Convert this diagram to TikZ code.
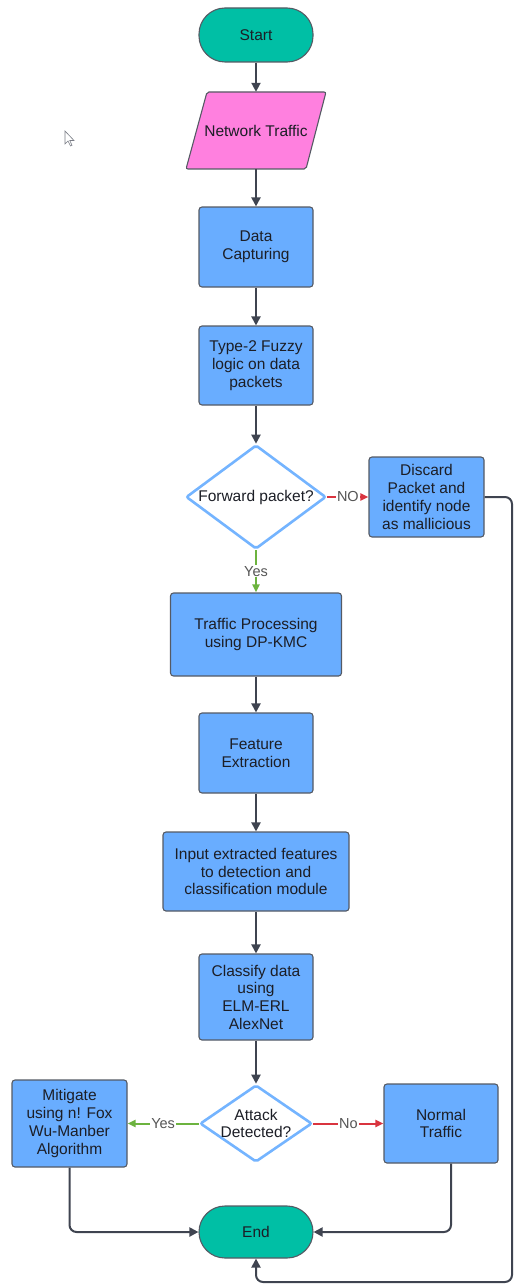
\documentclass[tikz,border=0pt]{standalone}
\usepackage{fontspec}
\setmainfont{Liberation Sans}
\usetikzlibrary{shapes.geometric,arrows.meta}
\definecolor{boxblue}{HTML}{69ADFF}
\definecolor{dblue}{HTML}{74B4FF}
\definecolor{teal}{HTML}{00BFA5}
\definecolor{pinkio}{HTML}{FF80DF}
\definecolor{edge}{HTML}{555A64}
\definecolor{conncol}{HTML}{3F4450}
\definecolor{yesgreen}{HTML}{6CB33F}
\definecolor{nored}{HTML}{D9343F}
\definecolor{txt}{HTML}{1C1E26}
\definecolor{lbl}{HTML}{555555}
\tikzset{
  every node/.style={font=\fontsize{15.5}{17.7}\selectfont, text=txt, align=center},
  procbox/.style={draw=edge, line width=1.1pt, fill=boxblue, rounded corners=3pt, inner sep=0pt},
  termbox/.style={draw=edge, line width=1.1pt, fill=teal, rounded corners=26pt, inner sep=0pt, minimum width=114pt},
  decbox/.style={draw=dblue, line width=2.6pt, fill=white, diamond, inner sep=0pt, rounded corners=2pt},
  ghost/.style={inner sep=0pt},
  conn/.style={color=conncol, line width=2pt, -{Triangle[length=9pt,width=9pt]}},
  yesline/.style={color=yesgreen, line width=2pt, -{Triangle[length=8pt,width=7pt]}},
  noline/.style={color=nored, line width=2pt, -{Triangle[length=8pt,width=7pt]}},
  lab/.style={fill=white, text=lbl, inner sep=1pt, font=\fontsize{14.5}{16}\selectfont}
}
\begin{document}
\begin{tikzpicture}[x=1pt,y=-1pt]
\useasboundingbox (0,0) rectangle (514,1284);
% nodes
\node[termbox, minimum height=54pt] (start) at (256,35) {Start};
\fill[pinkio, draw=edge, line width=1.1pt, rounded corners=2pt]
  (207,92) -- (326,92) -- (306,169) -- (186,169) -- cycle;
\node[ghost, minimum width=120pt, minimum height=77pt] (nt) at (256,130.5) {Network Traffic};
\node[procbox, minimum width=114pt, minimum height=80pt] (dc) at (256,247) {Data\\Capturing};
\node[procbox, minimum width=114pt, minimum height=79pt] (t2) at (256,365.5) {Type-2 Fuzzy\\logic on data\\packets};
\node[decbox, minimum width=140pt, minimum height=104pt, label={center:Forward packet?}] (fwd) at (256,497) {};
\node[procbox, minimum width=115pt, minimum height=80pt] (disc) at (426.5,497) {Discard\\Packet and\\identify node\\as mallicious};
\node[procbox, minimum width=171pt, minimum height=83pt] (tp) at (256,634.5) {Traffic Processing\\using DP-KMC};
\node[procbox, minimum width=114pt, minimum height=80pt] (fe) at (256,753) {Feature\\Extraction};
\node[procbox, minimum width=186pt, minimum height=79pt] (inp) at (256,871.5) {Input extracted features\\to detection and\\classification module};
\node[procbox, minimum width=114pt, minimum height=86pt] (cls) at (256,997) {Classify data\\using\\ELM-ERL\\AlexNet};
\node[decbox, minimum width=112pt, minimum height=77pt, label={center:Attack\\Detected?}] (att) at (256,1123.5) {};
\node[procbox, minimum width=115pt, minimum height=87pt] (mit) at (69.5,1123.5) {Mitigate\\using n! Fox\\Wu-Manber\\Algorithm};
\node[procbox, minimum width=114pt, minimum height=79pt] (nor) at (441,1123.5) {Normal\\Traffic};
\node[termbox, minimum height=52pt] (end) at (256,1232) {End};
\coordinate (lr) at (512,1282);
% cursor
\draw[conncol!70, fill=white, line width=0.6pt] (65,131) -- (65,144) -- (68,141) -- (70.5,146) -- (72,145.3) -- (69.8,140.5) -- (74,140.5) -- cycle;
% connectors
\draw[conn] (start) -- (nt);
\draw[conn] (nt) -- (dc);
\draw[conn] (dc) -- (t2);
\draw[conn] (t2) -- (fwd);
\draw[noline] (fwd) -- node[lab]{NO} (disc);
\draw[yesline] (fwd) -- node[lab]{Yes} (tp);
\draw[conn] (tp) -- (fe);
\draw[conn] (fe) -- (inp);
\draw[conn] (inp) -- (cls);
\draw[conn] (cls) -- (att);
\draw[yesline] (att) -- node[lab]{Yes} (mit);
\draw[noline] (att) -- node[lab]{No} (nor);
\draw[conn, rounded corners=7pt] (mit.south) |- (end.west);
\draw[conn, rounded corners=7pt] ([xshift=10pt]nor.south) |- (end.east);
\draw[conn, rounded corners=7pt] (disc.east) -| (lr) -| (end.south);
\end{tikzpicture}
\end{document}
